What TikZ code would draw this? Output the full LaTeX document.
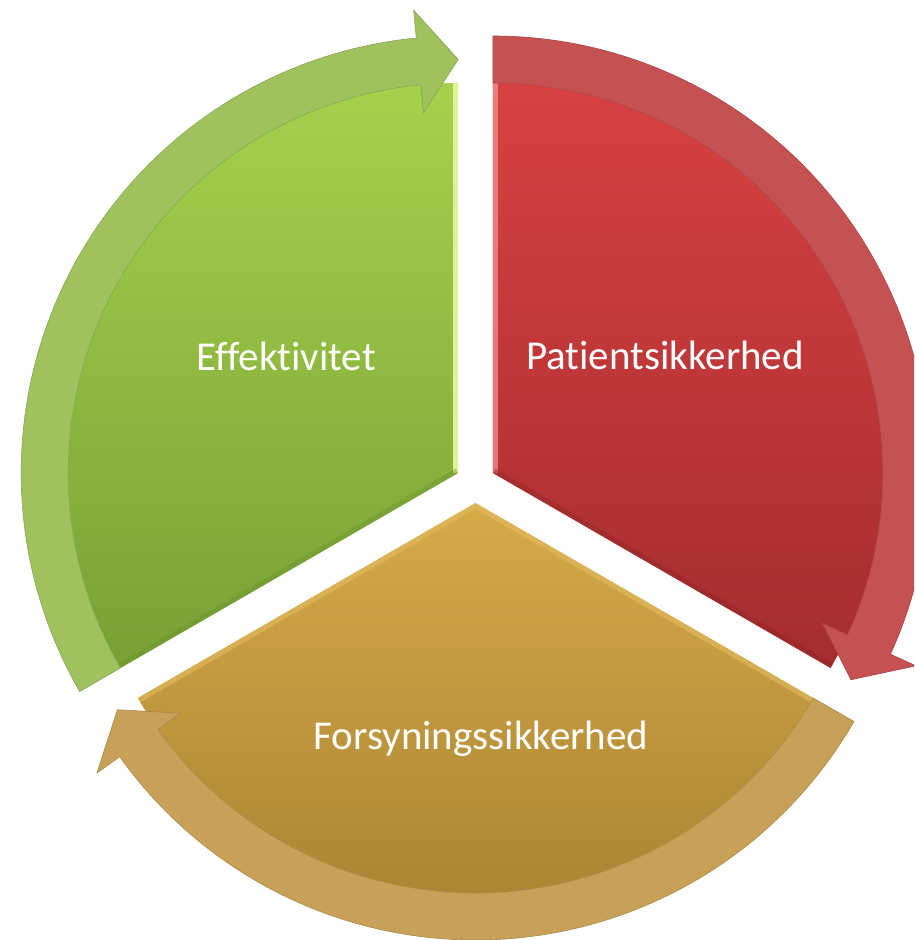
\documentclass[tikz,border=0pt]{standalone}
\usepackage{fontspec}
\setmainfont{Carlito}[Ligatures=NoCommon]
\usetikzlibrary{calc}
\definecolor{gTop}{HTML}{A6D14C}
\definecolor{gBot}{HTML}{79A035}
\definecolor{gBand}{HTML}{9FC25F}
\definecolor{gHi}{HTML}{DDF395}
\definecolor{gLo}{HTML}{6E9530}
\definecolor{rTop}{HTML}{D94141}
\definecolor{rBot}{HTML}{A42D2E}
\definecolor{rBand}{HTML}{C65152}
\definecolor{rHi}{HTML}{F09090}
\definecolor{rLo}{HTML}{922627}
\definecolor{yTop}{HTML}{D6AA47}
\definecolor{yBot}{HTML}{A68131}
\definecolor{yBand}{HTML}{C6A157}
\definecolor{yHi}{HTML}{E2BD62}
\tikzset{
  lbl/.style={text=white, font=\fontsize{41}{49}\selectfont, inner sep=0pt, anchor=base},
  bandfill/.style={fill=#1, draw=#1!85!black, line width=0.6pt, line join=miter},
}
\begin{document}
\begin{tikzpicture}[x=1pt,y=1pt]
\useasboundingbox (0,0) rectangle (914,940);
\clip (0,0) rectangle (914,940);
\coordinate (C) at (475.5,457);
\coordinate (G) at ($(C)+(150:20)$);
\coordinate (R) at ($(C)+(30:20)$);
\coordinate (Y) at ($(C)+(270:20)$);

% ---------- green segment ----------
\shade[top color=gTop, bottom color=gBot] (G) -- ++(90:390) arc[start angle=90,end angle=210,radius=390] -- cycle;
\begin{scope}
  \clip (G) -- ++(90:390) arc[start angle=90,end angle=210,radius=390] -- cycle;
  \draw[gHi, line width=10pt] (G) -- ++(90:400);
  \draw[gLo, line width=10pt, opacity=0.45] (G) -- ++(210:400);
\end{scope}
\fill[bandfill=gBand] ($(G)+(210:437)$) arc[start angle=210,end angle=95.5,radius=437]
  -- ($(G)+(95.5:465)$) -- ($(G)+(90:413.5)$) -- ($(G)+(95.5:362)$) -- ($(G)+(95.5:390)$)
  arc[start angle=95.5,end angle=210,radius=390] -- cycle;

% ---------- red segment ----------
\shade[top color=rTop, bottom color=rBot] (R) -- ++(-30:390) arc[start angle=-30,end angle=90,radius=390] -- cycle;
\begin{scope}
  \clip (R) -- ++(-30:390) arc[start angle=-30,end angle=90,radius=390] -- cycle;
  \draw[rHi, line width=10pt, opacity=0.75] (R) -- ++(90:400);
  \draw[rLo, line width=10pt, opacity=0.45] (R) -- ++(-30:400);
\end{scope}
\fill[bandfill=rBand] ($(R)+(90:437)$) arc[start angle=90,end angle=-24.5,radius=437]
  -- ($(R)+(-24.5:465)$) -- ($(R)+(-30:413.5)$) -- ($(R)+(-24.5:362)$) -- ($(R)+(-24.5:390)$)
  arc[start angle=-24.5,end angle=90,radius=390] -- cycle;

% ---------- yellow segment ----------
\shade[top color=yTop, bottom color=yBot] (Y) -- ++(210:390) arc[start angle=210,end angle=330,radius=390] -- cycle;
\begin{scope}
  \clip (Y) -- ++(210:390) arc[start angle=210,end angle=330,radius=390] -- cycle;
  \draw[yHi, line width=10pt, opacity=0.6] ($(Y)+(210:400)$) -- (Y) -- ++(330:400);
\end{scope}
\fill[bandfill=yBand] ($(Y)+(330:437)$) arc[start angle=330,end angle=215.5,radius=437]
  -- ($(Y)+(215.5:465)$) -- ($(Y)+(210:413.5)$) -- ($(Y)+(215.5:362)$) -- ($(Y)+(215.5:390)$)
  arc[start angle=215.5,end angle=330,radius=390] -- cycle;

% ---------- labels ----------
\node[lbl] (eff) at (286,569) {Effektivitet};
\node[lbl] (pat) at (665,570) {Patientsikkerhed};
\node[lbl] (for) at (481,190) {Forsyningssikkerhed};
\end{tikzpicture}
\end{document}
